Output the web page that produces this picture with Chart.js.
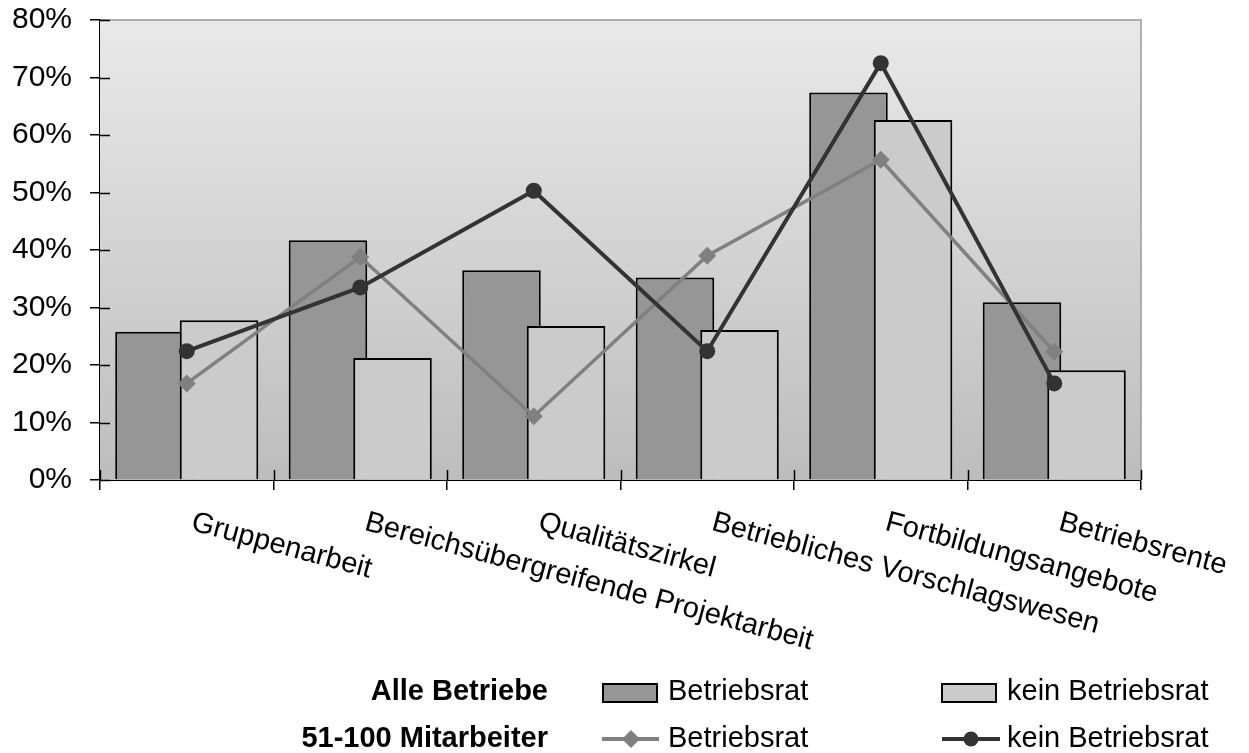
<!DOCTYPE html>
<html>
<head>
<meta charset="utf-8">
<script src="https://cdn.jsdelivr.net/npm/chart.js@4"></script>
<style>
  html, body { margin: 0; padding: 0; background: #fff; }
  #wrap { width: 1249px; height: 753px; position: relative; }
</style>
</head>
<body>
<div id="wrap"><canvas id="canva"></canvas></div>
<script>
const labels = ["Gruppenarbeit", "Bereichsübergreifende Projektarbeit", "Qualitätszirkel",
  "Betriebliches Vorschlagswesen", "Fortbildungsangebote", "Betriebsrente"];

// Alle Betriebe (bars)
const alleMitBR = [25.8, 41.7, 36.5, 35.2, 67.4, 30.9];
const alleOhneBR = [27.8, 21.2, 26.8, 26.1, 62.6, 19.1];
// 51-100 Mitarbeiter (lines)
const kleinMitBR = [16.8, 38.8, 11.1, 39.0, 55.7, 22.3];
const kleinOhneBR = [22.4, 33.5, 50.3, 22.4, 72.5, 16.8];

const yTicks = [0, 10, 20, 30, 40, 50, 60, 70, 80];

const FONT = "'Liberation Sans', Arial, sans-serif";

const backdrop = {
  id: "backdrop",
  beforeDatasetsDraw(chart) {
    const { ctx, chartArea: a } = chart;
    ctx.save();
    const g = ctx.createLinearGradient(0, a.top, 0, a.bottom);
    g.addColorStop(0, "#e9e9e9");
    g.addColorStop(1, "#bdbdbd");
    ctx.fillStyle = g;
    ctx.fillRect(a.left, a.top, a.right - a.left, a.bottom - a.top);
    ctx.strokeStyle = "#999";
    ctx.lineWidth = 1.5;
    ctx.beginPath();
    ctx.moveTo(a.left, a.top);
    ctx.lineTo(a.right, a.top);
    ctx.lineTo(a.right, a.bottom);
    ctx.stroke();
    ctx.restore();
    // dark bars first, so light bars overlap them
    chart.getDatasetMeta(0).controller.draw();
  },
  beforeDatasetDraw(chart, args) {
    if (args.index === 0) return false;
  },
  afterDraw(chart) {
    const { ctx, chartArea: a } = chart;
    const x = chart.scales.x, y = chart.scales.y;
    ctx.save();
    // inner halves of the crossing tick marks
    ctx.strokeStyle = "#000";
    ctx.lineWidth = 1.5;
    ctx.beginPath();
    yTicks.forEach(v => {
      const py = Math.round(y.getPixelForValue(v)) + 0.5;
      ctx.moveTo(a.left, py);
      ctx.lineTo(a.left + 10, py);
    });
    const half = (x.getPixelForValue(1) - x.getPixelForValue(0)) / 2;
    for (let i = 0; i <= labels.length; i++) {
      const px = Math.round(x.getPixelForValue(i) - half) + 0.5;
      ctx.moveTo(px, a.bottom);
      ctx.lineTo(px, a.bottom - 10);
    }
    ctx.stroke();

    // rotated category labels
    ctx.fillStyle = "#000";
    ctx.font = "29px " + FONT;
    ctx.textAlign = "left";
    ctx.textBaseline = "top";
    labels.forEach((l, i) => {
      ctx.save();
      ctx.translate(x.getPixelForValue(i) + 9, a.bottom + 28);
      ctx.rotate(15 * Math.PI / 180);
      ctx.fillText(l, 0, 0);
      ctx.restore();
    });

    // legend
    const r1 = 692, r2 = 739;
    ctx.font = "bold 29px " + FONT;
    ctx.textAlign = "right";
    ctx.textBaseline = "middle";
    ctx.fillText("Alle Betriebe", 548, r1);
    ctx.fillText("51-100 Mitarbeiter", 548, r2);

    ctx.lineWidth = 2;
    ctx.strokeStyle = "#000";
    ctx.fillStyle = "#969696";
    ctx.fillRect(603, 684, 54, 18);
    ctx.strokeRect(603, 684, 54, 18);
    ctx.fillStyle = "#cbcbcb";
    ctx.fillRect(942, 684, 54, 18);
    ctx.strokeRect(942, 684, 54, 18);

    ctx.lineWidth = 4;
    ctx.strokeStyle = "#808080";
    ctx.beginPath();
    ctx.moveTo(602, r2);
    ctx.lineTo(659, r2);
    ctx.stroke();
    ctx.fillStyle = "#808080";
    ctx.beginPath();
    ctx.moveTo(631, r2 - 9);
    ctx.lineTo(640, r2);
    ctx.lineTo(631, r2 + 9);
    ctx.lineTo(622, r2);
    ctx.closePath();
    ctx.fill();

    ctx.strokeStyle = "#333";
    ctx.beginPath();
    ctx.moveTo(942, r2);
    ctx.lineTo(1000, r2);
    ctx.stroke();
    ctx.fillStyle = "#333";
    ctx.beginPath();
    ctx.arc(971, r2, 7.5, 0, Math.PI * 2);
    ctx.fill();

    ctx.fillStyle = "#000";
    ctx.font = "29px " + FONT;
    ctx.textAlign = "left";
    ctx.fillText("Betriebsrat", 668, r1);
    ctx.fillText("kein Betriebsrat", 1007, r1);
    ctx.fillText("Betriebsrat", 668, r2);
    ctx.fillText("kein Betriebsrat", 1007, r2);
    ctx.restore();
  }
};

const data = {
  labels: labels,
  datasets: [
    {
      type: "bar",
      label: "Alle Betriebe Betriebsrat",
      data: alleMitBR,
      backgroundColor: "#969696",
      borderColor: "#000",
      borderWidth: 2,
      order: 1
    },
    {
      type: "bar",
      label: "Alle Betriebe kein Betriebsrat",
      data: alleOhneBR,
      backgroundColor: "#cbcbcb",
      borderColor: "#000",
      borderWidth: 2,
      order: 2
    },
    {
      type: "line",
      label: "51-100 Mitarbeiter Betriebsrat",
      data: kleinMitBR,
      borderColor: "#808080",
      backgroundColor: "#808080",
      borderWidth: 3.5,
      pointStyle: "rectRot",
      pointRadius: 9,
      pointBorderWidth: 0,
      tension: 0,
      order: 0.5
    },
    {
      type: "line",
      label: "51-100 Mitarbeiter kein Betriebsrat",
      data: kleinOhneBR,
      borderColor: "#333333",
      backgroundColor: "#333333",
      borderWidth: 4,
      pointStyle: "circle",
      pointRadius: 8,
      pointBorderWidth: 0,
      tension: 0,
      order: 0
    }
  ]
};

const config = {
  type: "bar",
  data: data,
  options: {
    responsive: true,
    maintainAspectRatio: false,
    animation: false,
    layout: { padding: { top: 20, right: 108, left: 0, bottom: 0 } },
    datasets: {
      bar: { categoryPercentage: 0.744, barPercentage: 1.217 }
    },
    plugins: {
      legend: { display: false },
      tooltip: { enabled: false }
    },
    scales: {
      x: {
        offset: true,
        grid: { drawOnChartArea: false, drawTicks: true, tickLength: 10, color: "#000", lineWidth: 1.5, offset: true },
        border: { color: "#000", width: 2 },
        ticks: { display: false },
        afterFit(scale) { scale.height = 273; scale.paddingLeft = 0; scale.paddingRight = 0; }
      },
      y: {
        min: 0,
        max: 80,
        grid: { drawOnChartArea: false, drawTicks: true, tickLength: 10, color: "#000", lineWidth: 1.5 },
        border: { color: "#000", width: 2 },
        ticks: {
          stepSize: 10,
          padding: 18,
          color: "#000",
          font: { family: FONT, size: 30 },
          callback: v => v + "%"
        },
        afterFit(scale) { scale.width = 100; scale.paddingTop = 0; scale.paddingBottom = 0; }
      }
    }
  },
  plugins: [backdrop]
};
const myChart = new Chart(document.getElementById("canva"), config);
</script>
</body>
</html>
